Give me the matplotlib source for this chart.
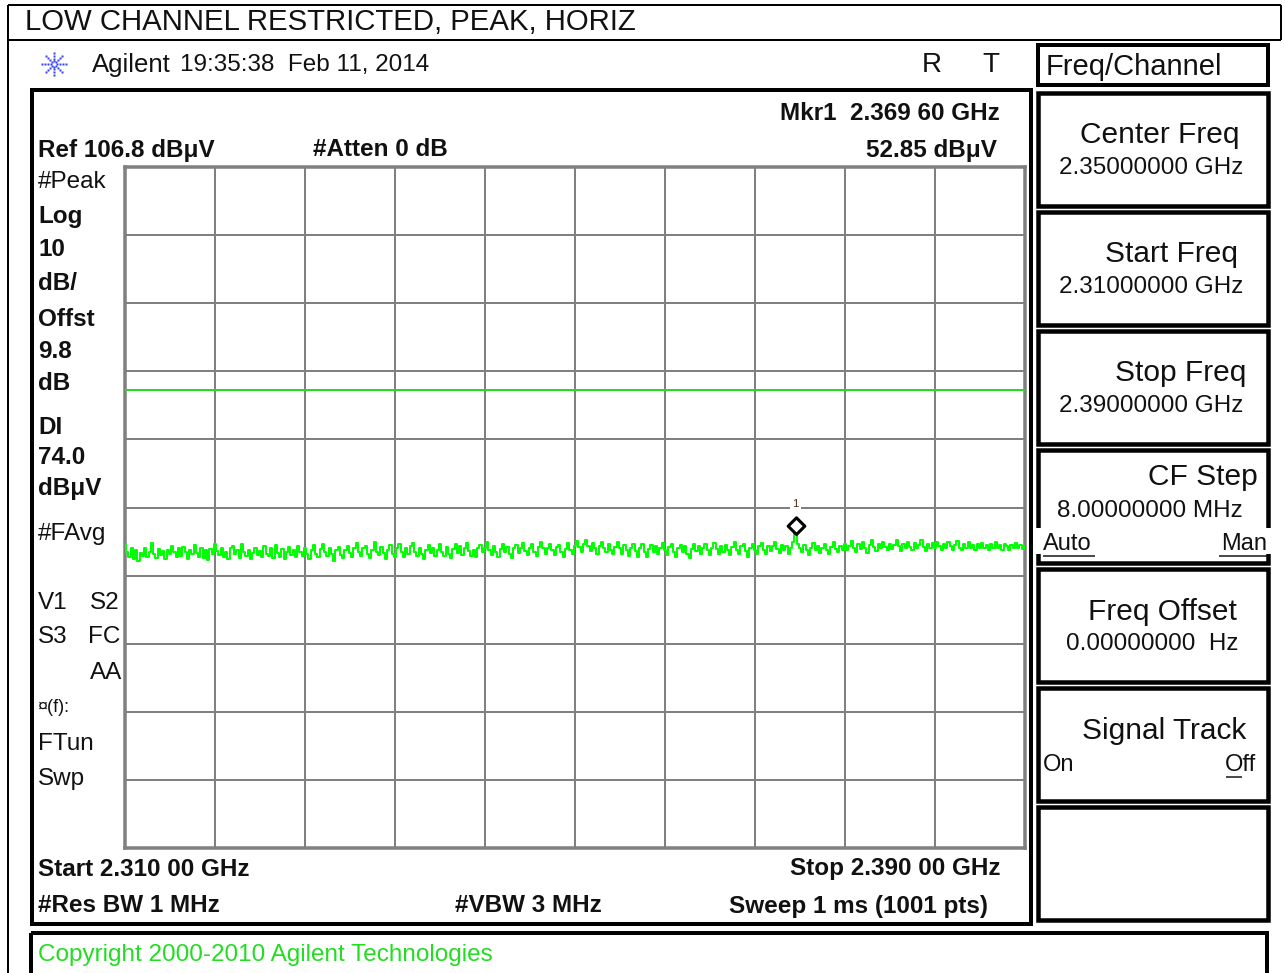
import numpy as np
import matplotlib
matplotlib.use("Agg")
import matplotlib.pyplot as plt
from matplotlib.patches import Rectangle
from matplotlib.path import Path
from matplotlib.markers import MarkerStyle

plt.rcParams['font.family'] = ['Liberation Sans', 'DejaVu Sans']

# ---- sweep settings ----
start_ghz = 2.310
stop_ghz = 2.390
ref_level = 106.8          # dBuV, top of screen
db_per_div = 10
n_div_y = 10
n_div_x = 10
display_line = 74.0        # dBuV limit line
marker_freq = 2.36960      # GHz
marker_level = 52.85       # dBuV

# ---- measured trace (dBuV), 401 points across the span ----
trace_dbuv = [
    51.4, 50.2, 49.6, 50.8, 49.3, 50.5, 49.0, 50.1, 49.7, 50.9, 49.5, 50.3, 51.6, 50.0, 49.4, 50.7, 49.8, 50.4, 49.2, 50.6,
    49.9, 51.2, 50.3, 49.5, 50.8, 49.7, 51.0, 50.2, 49.3, 50.6, 49.9, 51.3, 50.1, 49.6, 50.9, 49.4, 50.5, 49.1, 50.7, 50.0,
    51.5, 50.4, 49.8, 50.9, 49.6, 50.3, 49.2, 50.8, 51.1, 49.9, 50.5, 49.4, 51.4, 50.2, 49.7, 50.6, 49.3, 50.1, 50.9, 49.8,
    50.4, 49.5, 51.2, 50.0, 49.7, 50.8, 49.4, 51.3, 50.1, 49.6, 50.7, 49.2, 50.3, 51.0, 49.8, 50.5, 49.5, 51.1, 50.2, 49.7,
    50.9, 49.9, 49.3, 50.6, 51.3, 50.0, 49.6, 50.7, 51.5, 50.3, 49.7, 50.8, 49.9, 48.9, 50.5, 51.0, 49.8, 49.4, 50.6, 51.2,
    50.1, 49.6, 50.9, 51.6, 50.2, 49.7, 50.8, 51.2, 49.9, 49.4, 50.6, 51.7, 50.3, 49.8, 51.0, 50.1, 49.3, 50.5, 51.3, 50.0,
    49.5, 50.8, 51.4, 50.2, 49.6, 50.9, 49.9, 51.1, 51.6, 50.3, 49.7, 50.9, 50.0, 49.2, 50.6, 51.3, 50.1, 50.8, 49.7, 50.5,
    51.5, 50.3, 49.7, 51.0, 50.0, 49.4, 50.7, 51.4, 50.1, 51.1, 49.8, 50.9, 51.6, 50.4, 49.7, 50.6, 49.5, 50.9, 51.3, 50.2,
    50.9, 51.7, 50.6, 49.8, 51.1, 50.2, 49.5, 50.7, 51.5, 50.3, 51.0, 50.0, 49.4, 50.8, 51.3, 50.1, 50.9, 51.6, 50.4, 49.8,
    50.8, 51.4, 50.3, 49.7, 51.0, 51.8, 50.9, 50.0, 50.8, 51.5, 50.5, 49.8, 51.0, 51.3, 50.2, 49.6, 50.7, 51.6, 50.6, 49.9,
    51.1, 51.9, 51.0, 50.3, 51.5, 52.1, 51.2, 50.4, 51.6, 50.8, 50.0, 51.2, 51.8, 50.9, 50.2, 51.4, 50.6, 49.9, 51.0, 51.7,
    50.8, 50.0, 51.3, 50.5, 49.7, 50.9, 51.5, 50.4, 49.6, 50.8, 51.4, 50.2, 49.5, 50.7, 51.3, 50.3, 51.1, 49.9, 50.8, 51.6,
    50.5, 49.8, 51.0, 51.5, 50.3, 49.6, 50.9, 51.3, 50.2, 51.1, 50.0, 49.4, 50.7, 51.4, 50.4, 51.1, 49.9, 50.8, 51.5, 50.5,
    49.8, 50.9, 51.6, 50.7, 49.9, 51.1, 50.2, 51.3, 50.6, 49.8, 51.0, 51.7, 50.6, 50.0, 51.1, 51.5, 50.4, 49.6, 50.9, 51.4,
    50.5, 49.9, 51.1, 51.6, 50.6, 50.0, 51.2, 50.4, 51.1, 51.8, 50.7, 50.1, 51.3, 50.5, 51.2, 50.0, 50.8, 51.7, 52.85, 51.5,
    50.8, 50.2, 51.3, 50.6, 49.8, 50.9, 51.6, 50.5, 51.2, 50.1, 50.9, 51.5, 50.6, 50.0, 51.0, 51.7, 50.7, 50.3, 51.2, 50.5,
    51.4, 50.6, 51.2, 51.9, 50.9, 50.2, 51.4, 50.7, 51.7, 50.9, 50.1, 51.3, 52.0, 51.0, 50.4, 51.5, 50.8, 51.8, 51.0, 50.5,
    51.5, 50.7, 51.3, 52.1, 51.1, 50.4, 51.5, 50.8, 51.8, 51.0, 50.5, 51.6, 50.8, 51.3, 52.0, 51.0, 50.4, 51.5, 50.8, 51.6,
    50.9, 51.8, 51.1, 50.5, 51.5, 50.8, 51.8, 51.1, 50.6, 51.3, 51.9, 50.9, 50.5, 51.5, 50.8, 51.7, 50.9, 51.3, 50.6, 51.5,
    50.9, 51.6, 50.8, 51.3, 50.5, 51.5, 50.9, 51.8, 50.8, 51.3, 50.6, 51.5, 51.1, 50.5, 51.3, 50.8, 51.6, 50.9, 51.3, 50.7,
    51.1,
]

# ---- annotation text ----
title_text = "LOW CHANNEL RESTRICTED, PEAK, HORIZ"
left_labels = [
    ("#Peak", "normal"), ("Log", "bold"), ("10", "bold"), ("dB/", "bold"),
    ("Offst", "bold"), ("9.8", "bold"), ("dB", "bold"), ("DI", "bold"),
    ("74.0", "bold"), ("dB\u03bcV", "bold"),
]
softkeys = [
    ("Center Freq", "2.35000000 GHz"),
    ("Start Freq", "2.31000000 GHz"),
    ("Stop Freq", "2.39000000 GHz"),
    ("CF Step", "8.00000000 MHz"),
    ("Freq Offset", "0.00000000  Hz"),
    ("Signal Track", ""),
]

W, H = 1285, 973
fig = plt.figure(figsize=(W / 100, H / 100), dpi=100)
fig.patch.set_facecolor("white")

# overlay in pixel coordinates for the instrument frame
bg = fig.add_axes([0, 0, 1, 1])
bg.set_xlim(0, W)
bg.set_ylim(H, 0)
bg.axis("off")

PX = 72 / 100  # points per pixel
INK = "#111111"


def box(x0, y0, x1, y1, lw_px=4, color="black", fc="none", z=2):
    bg.add_patch(Rectangle((x0, y0), x1 - x0, y1 - y0, fill=(fc != "none"),
                           facecolor=fc, edgecolor=color, lw=lw_px * PX, zorder=z))


def line(xs, ys, lw_px=2, color="black"):
    bg.plot(xs, ys, color=color, lw=lw_px * PX, solid_capstyle="butt", zorder=2)


def txt(x, y, s, size=18, weight="normal", ha="left", color=INK, **kw):
    bg.text(x, y, s, fontsize=size, fontweight=weight, ha=ha, va="center",
            color=color, zorder=5, **kw)


# outer page frame and title bar
line([8, 8], [5, H], 2)
line([8, 1281], [5, 5], 2)
line([1281, 1281], [5, 40], 2)
line([8, 1281], [40, 40], 2)
txt(25, 22, title_text, size=21.2)

# Agilent logo: dotted starburst
cx, cy = 54, 64
for ang in np.arange(0, np.pi, np.pi / 4):
    for r in (3, 6, 9, 12):
        for sgn in (1, -1):
            bg.plot(cx + sgn * r * np.cos(ang), cy + sgn * r * np.sin(ang) * 0.9,
                    "s", ms=1.6, color="#3344ee", mec="none", zorder=5)
txt(92, 65, "Agilent", size=18.5)
txt(180, 65, "19:35:38  Feb 11, 2014", size=17.5)
txt(922, 65, "R", size=20)
txt(982, 65, "T", size=20)

# main screen frame
box(32, 90, 1031, 924, lw_px=4)
txt(1000, 113, "Mkr1  2.369 60 GHz", size=17.5, weight="bold", ha="right")
txt(38, 150, "Ref 106.8 dB\u03bcV", size=17.5, weight="bold")
txt(313, 150, "#Atten 0 dB", size=17.5, weight="bold")
txt(997, 150, "52.85 dB\u03bcV", size=17.5, weight="bold", ha="right")

left_y = [182, 217, 250, 283, 320, 352, 384, 427, 457, 489]
for (s, wgt), yy in zip(left_labels, left_y):
    txt(38, yy, s, size=17.5, weight=wgt)
txt(38, 534, "#FAvg", size=17.5)
txt(38, 603, "V1", size=17.5)
txt(120, 603, "S2", size=17.5, ha="right")
txt(38, 637, "S3", size=17.5)
txt(120, 637, "FC", size=17.5, ha="right")
txt(122, 673, "AA", size=17.5, ha="right")
txt(38, 708, "\u00a4(f):", size=13)
txt(38, 744, "FTun", size=17.5)
txt(38, 779, "Swp", size=17.5)

txt(38, 869, "Start 2.310 00 GHz", size=17.5, weight="bold")
txt(1000, 869, "Stop 2.390 00 GHz", size=17.5, weight="bold", ha="right")
txt(38, 906, "#Res BW 1 MHz", size=17.5, weight="bold")
txt(455, 906, "#VBW 3 MHz", size=17.5, weight="bold")
txt(988, 906, "Sweep 1 ms (1001 pts)", size=17.5, weight="bold", ha="right")

# copyright strip
box(31, 933, 1267, 990, lw_px=4)
txt(38, 955, "Copyright 2000-2010 Agilent Technologies", size=17.5, color="#22dd22")

# softkey panel
box(1038, 45, 1268, 85, lw_px=4)
txt(1046, 67, "Freq/Channel", size=21)
key_tops = [93, 212, 331, 450, 569, 688, 807]
for top in key_tops:
    box(1038, top, 1268, top + 113, lw_px=4.5)

title_right = [1240, 1238, 1246, 1258, 1237, 1246]
for (label, value), top, xr in zip(softkeys, key_tops, title_right):
    yt = top + 42 if label not in ("CF Step", "Freq Offset", "Signal Track") else top + (27 if label == "CF Step" else 43)
    txt(xr, yt, label, size=21.5, ha="right")
    if value:
        vy = top + 75 if label != "CF Step" else top + 61
        txt(1243 if label != "Freq Offset" else 1238, vy, value, size=17.5, ha="right")

# CF Step: Auto / Man row breaks the box edges
bg.add_patch(Rectangle((1033, 528), 240, 26, facecolor="white", edgecolor="none", zorder=3))
txt(1043, 544, "Auto", size=17)
txt(1267, 544, "Man", size=17, ha="right")
line([1043, 1095], [556, 556], 1.5, INK)
line([1219, 1267], [556, 556], 1.5, INK)
# Signal Track: On / Off
txt(1043, 765, "On", size=17)
txt(1256, 765, "Off", size=17, ha="right")
line([1226, 1242], [777, 777], 1.5, INK)

# ---- trace graticule ----
gx0, gx1, gy0, gy1 = 125, 1025, 167, 848
ax = fig.add_axes([gx0 / W, 1 - gy1 / H, (gx1 - gx0) / W, (gy1 - gy0) / H])
bottom_level = ref_level - n_div_y * db_per_div
ax.set_xlim(start_ghz, stop_ghz)
ax.set_ylim(bottom_level, ref_level)
ax.set_xticks(np.linspace(start_ghz, stop_ghz, n_div_x + 1))
ax.set_yticks(np.linspace(bottom_level, ref_level, n_div_y + 1))
ax.tick_params(length=0, labelbottom=False, labelleft=False)
ax.grid(True, color="#808080", lw=2 * PX)
ax.set_axisbelow(True)
for sp in ax.spines.values():
    sp.set_color("#808080")
    sp.set_linewidth(3.5 * PX)

freqs = np.linspace(start_ghz, stop_ghz, len(trace_dbuv))
ax.axhline(display_line, color="#22dd22", lw=2 * PX, zorder=3)
ax.plot(freqs, trace_dbuv, color="#00ff00", lw=2 * PX, drawstyle="steps-mid", zorder=4)

# marker diamond sitting on the marked point
diamond = Path([(0, 0), (0.5, 0.5), (0, 1), (-0.5, 0.5), (0, 0)],
               [Path.MOVETO, Path.LINETO, Path.LINETO, Path.LINETO, Path.CLOSEPOLY])
ax.plot([marker_freq], [marker_level], marker=MarkerStyle(diamond), ms=24,
        mfc="white", mec="black", mew=2.2, ls="none", zorder=5, clip_on=False)
ax.annotate("1", (marker_freq, marker_level), xytext=(0, 22), textcoords="offset points",
            ha="center", va="center", fontsize=8, color="#4a2a10",
            bbox=dict(boxstyle="square,pad=0.2", fc="white", ec="none"), zorder=6)

fig.savefig("out.png", dpi=100, facecolor="white")
